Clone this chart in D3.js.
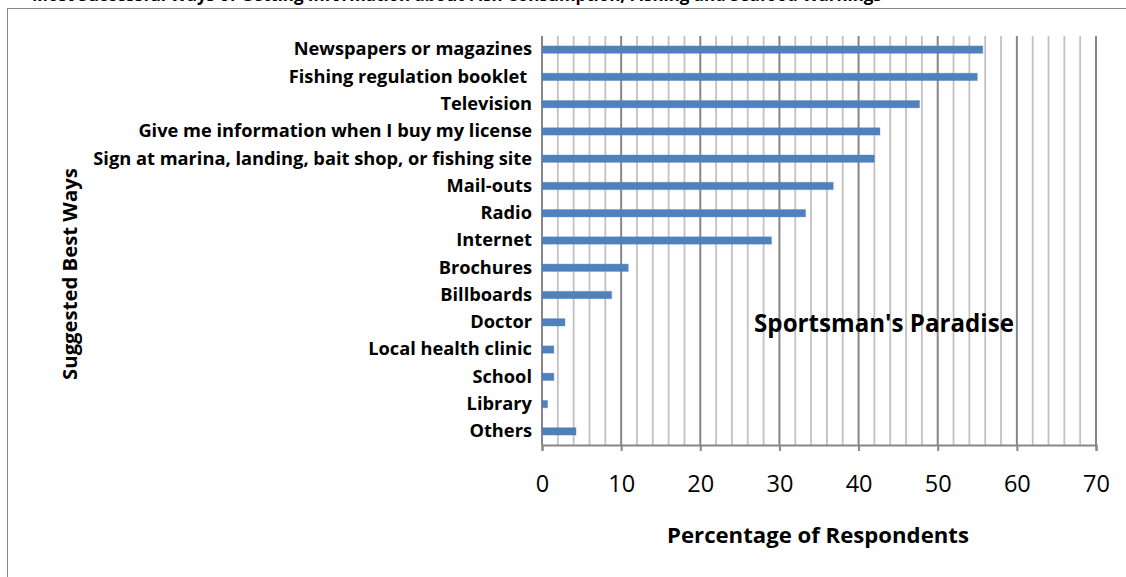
<!DOCTYPE html>
<html>
<head>
<meta charset="utf-8">
<script src="https://cdn.jsdelivr.net/npm/d3@7"></script>
<style>
  html, body { margin: 0; padding: 0; background: #fff; overflow: hidden; }
  svg { display: block; }
  text { font-family: "Open Sans", Carlito, Lato, sans-serif; }
</style>
</head>
<body>
<svg id="chart" width="1126" height="577"></svg>
<script>
const titleText = "Most Successful Ways of Getting Information about Fish Consumption, Fishing and Seafood Warnings";
const categories = [
  "Newspapers or magazines",
  "Fishing regulation booklet ",
  "Television",
  "Give me information when I buy my license",
  "Sign at marina, landing, bait shop, or fishing site",
  "Mail-outs",
  "Radio",
  "Internet",
  "Brochures",
  "Billboards",
  "Doctor",
  "Local health clinic",
  "School",
  "Library",
  "Others"
];
const values = [55.7, 55.0, 47.7, 42.7, 42.0, 36.8, 33.3, 29.0, 10.9, 8.8, 2.9, 1.5, 1.5, 0.7, 4.3];
const xTicks = [0, 10, 20, 30, 40, 50, 60, 70];
const minorTicks = d3.range(0, 71, 2);
const xTitle = "Percentage of Respondents";
const yTitle = "Suggested Best Ways";
const annotation = "Sportsman's Paradise";

const FONT = "'Open Sans', Carlito, Lato, sans-serif";
const svg = d3.select("#chart");

// scale a text's font size so that its rendered width matches a target width
function fitWidth(sel, target) {
  const w = sel.node().getComputedTextLength();
  const fs = +sel.attr("font-size");
  if (w > 0) sel.attr("font-size", fs * target / w);
  return sel;
}

// title (cut off at top edge, as in the reference)
fitWidth(svg.append("text")
  .attr("x", 32).attr("y", 1)
  .attr("font-size", 20).attr("font-weight", "bold")
  .attr("font-family", FONT)
  .attr("fill", "#000")
  .text(titleText), 850);

// chart frame
svg.append("rect")
  .attr("x", 7.5).attr("y", 8.5)
  .attr("width", 1200).attr("height", 700)
  .attr("fill", "none").attr("stroke", "#8a8a8a").attr("stroke-width", 1);

const pLeft = 542, pRight = 1096, pTop = 36, pBottom = 445;

const x = d3.scaleLinear().domain([0, 70]).range([pLeft, pRight]);
const y = d3.scaleBand().domain(categories).range([pTop, pBottom])
  .paddingInner(0.73).paddingOuter(0.365);

// minor gridlines
svg.append("g").selectAll("line")
  .data(minorTicks.filter(d => d % 10 !== 0))
  .join("line")
  .attr("x1", d => x(d)).attr("x2", d => x(d))
  .attr("y1", pTop).attr("y2", pBottom)
  .attr("stroke", "#c2c2c2").attr("stroke-width", 1.8);

// major gridlines
svg.append("g").selectAll("line")
  .data(xTicks)
  .join("line")
  .attr("x1", d => x(d)).attr("x2", d => x(d))
  .attr("y1", pTop).attr("y2", pBottom)
  .attr("stroke", "#878787").attr("stroke-width", 2);

// bars
svg.append("g").selectAll("rect")
  .data(categories)
  .join("rect")
  .attr("x", x(0))
  .attr("y", d => y(d))
  .attr("width", (d, i) => x(values[i]) - x(0))
  .attr("height", y.bandwidth())
  .attr("fill", "#4f81bd")
  .attr("stroke", "rgba(79,129,189,0.35)").attr("stroke-width", 1);

// x axis
const xAxis = svg.append("g")
  .attr("transform", `translate(0,${pBottom})`)
  .call(d3.axisBottom(x).tickValues(xTicks).tickSize(6).tickPadding(24));
xAxis.select(".domain").attr("stroke", "#878787").attr("stroke-width", 2);
xAxis.selectAll(".tick line").attr("stroke", "#878787").attr("stroke-width", 2);
xAxis.selectAll(".tick text")
  .attr("font-size", 23.5).attr("fill", "#000")
  .attr("font-family", FONT);

// y axis labels
const yAxis = svg.append("g")
  .attr("transform", `translate(${pLeft},0)`)
  .call(d3.axisLeft(y).tickSize(0).tickPadding(10));
yAxis.select(".domain").remove();
const yLabels = yAxis.selectAll(".tick text")
  .attr("font-size", 15).attr("font-weight", "bold").attr("fill", "#000")
  .attr("font-family", FONT)
  .style("white-space", "pre");
// match longest label width to the reference
const longest = yLabels.filter(d => d === categories[4]);
const lw = longest.node().getComputedTextLength();
yLabels.attr("font-size", 15 * 439 / lw);

// axis titles
fitWidth(svg.append("text")
  .attr("x", 818).attr("y", 543)
  .attr("text-anchor", "middle")
  .attr("font-size", 20).attr("font-weight", "bold")
  .attr("font-family", FONT)
  .text(xTitle), 302);

fitWidth(svg.append("text")
  .attr("transform", "translate(77,274) rotate(-90)")
  .attr("text-anchor", "middle")
  .attr("font-size", 20).attr("font-weight", "bold")
  .attr("font-family", FONT)
  .text(yTitle), 212);

fitWidth(svg.append("text")
  .attr("x", 884).attr("y", 332)
  .attr("text-anchor", "middle")
  .attr("font-size", 22).attr("font-weight", "bold")
  .attr("font-family", FONT)
  .text(annotation), 260);
</script>
</body>
</html>
